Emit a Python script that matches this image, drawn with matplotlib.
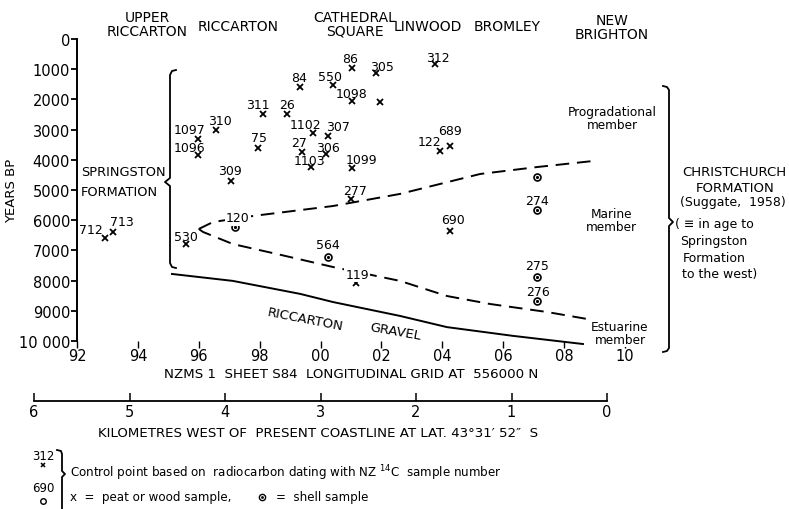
import matplotlib.pyplot as plt
from matplotlib.lines import Line2D

# === DONNEES (grid easting 92..110, age in years BP) ===
peat_ids = ["86", "305", "84", "550", "1098", "", "311", "26", "310", "1097",
            "1096", "75", "1102", "307", "27", "306", "1103", "1099", "309", "277",
            "312", "689", "122", "712", "713", "530", "690", "119"]
peat_x = [101.03, 101.82, 99.33, 100.41, 101.03, 101.95, 98.11, 98.90, 96.57, 95.98,
          95.98, 97.95, 99.75, 100.25, 99.39, 100.18, 99.69, 101.03, 97.06, 101.00,
          103.76, 104.25, 103.92, 92.92, 93.18, 95.58, 104.25, 101.17]
peat_age = [960, 1130, 1590, 1520, 2050, 2090, 2480, 2480, 3010, 3310,
            3840, 3610, 3110, 3210, 3740, 3810, 4240, 4270, 4700, 5300,
            830, 3540, 3710, 6590, 6390, 6790, 6360, 8080]

shell_ids = ["120", "564", "", "274", "275", "276"]
shell_x = [97.19, 100.25, 107.11, 107.11, 107.11, 107.11]
shell_age = [6225, 7220, 4570, 5660, 7880, 8675]

# member boundaries
upper_x = [96.0, 96.47, 97.78, 100.41, 102.61, 105.24, 107.11, 108.95]
upper_age = [6290, 6060, 5860, 5530, 5130, 4470, 4240, 4040]
lower_x = [96.0, 96.14, 97.12, 98.57, 100.41, 102.61, 104.15, 105.57, 107.44, 108.75]
lower_age = [6290, 6390, 6790, 7120, 7550, 8010, 8510, 8775, 9040, 9270]
gravel_x = [95.12, 97.12, 99.33, 100.41, 102.61, 104.15, 106.32, 108.62]
gravel_age = [7780, 8010, 8440, 8710, 9170, 9540, 9830, 10100]

year_ticks = list(range(0, 10001, 1000))
year_labels = [str(v) for v in year_ticks[:-1]] + ["10 000"]
grid_ticks = list(range(92, 111, 2))
grid_labels = ["92", "94", "96", "98", "00", "02", "04", "06", "08", "10"]
km_ticks = [6, 5, 4, 3, 2, 1, 0]

places = ["UPPER\nRICCARTON", "RICCARTON", "CATHEDRAL\nSQUARE", "LINWOOD", "BROMLEY", "NEW\nBRIGHTON"]

# label offsets (pixels) for sample numbers
peat_off = [(-2, 9), (6, 7), (-1, 10), (-3, 8), (0, 7), (0, 0), (-5, 9), (0, 9), (4, 9), (-9, 9),
            (-9, 7), (1, 11), (-7, 8), (10, 9), (-3, 9), (2, 7), (-2, 7), (10, 8), (-1, 10), (4, 9),
            (3, 7), (0, 15), (-10, 10), (-14, 9), (9, 10), (0, 8), (3, 12), (1, 9)]
shell_off = [(3, 9), (0, 13), (0, 0), (0, 9), (0, 11), (1, 9)]

W, H = 789, 510


def fx(px):
    return px / W


def fy(py):
    return 1 - py / H


def ftext(px, py, s, **kw):
    kw.setdefault("fontsize", 10)
    kw.setdefault("ha", "center")
    kw.setdefault("va", "center")
    fig.text(fx(px), fy(py), s, **kw)


def fline(pts, **kw):
    xs = [fx(p[0]) for p in pts]
    ys = [fy(p[1]) for p in pts]
    fig.add_artist(Line2D(xs, ys, color="black", lw=1.3, **kw))


plt.rcParams["font.family"] = ["DejaVu Sans"]
fig = plt.figure(figsize=(7.89, 5.10), dpi=100)
ax = fig.add_axes([fx(77), fy(342), (625 - 77) / W, (342 - 40) / H])
ax.set_xlim(92, 110)
ax.set_ylim(10000, 0)
for s in ["top", "right", "bottom"]:
    ax.spines[s].set_visible(False)
ax.spines["left"].set_linewidth(1.4)
ax.set_yticks(year_ticks)
ax.set_yticklabels(year_labels, fontsize=10.5)
ax.set_xticks(grid_ticks)
ax.set_xticklabels(grid_labels, fontsize=10.5)
ax.tick_params(axis="y", length=4, width=1.3, pad=1)
ax.tick_params(axis="x", length=5, width=1, pad=0)
ax.set_ylabel("YEARS BP", fontsize=9.5)
ax.yaxis.set_label_coords(-0.107, 0.5)
ax.set_xlabel("NZMS 1  SHEET S84  LONGITUDINAL GRID AT  556000 N", fontsize=9.6, labelpad=3)

# boundaries
ax.plot(upper_x, upper_age, color="black", lw=1.4, dashes=(7, 4), clip_on=False)
ax.plot(lower_x, lower_age, color="black", lw=1.4, dashes=(7, 4), clip_on=False)
ax.plot(gravel_x, gravel_age, color="black", lw=1.4, clip_on=False)

# samples
ax.plot(peat_x, peat_age, ls="none", marker="x", ms=4, mew=1.3, color="black", clip_on=False)
ax.plot(shell_x, shell_age, ls="none", marker="o", ms=5, mew=1.2, mfc="white", mec="black", clip_on=False)
ax.plot(shell_x, shell_age, ls="none", marker=".", ms=2.5, color="black", clip_on=False)

for lab, x, y, off in zip(peat_ids + shell_ids, peat_x + shell_x, peat_age + shell_age, peat_off + shell_off):
    if not lab:
        continue
    bb = None
    if lab in ("120", "119"):
        bb = dict(boxstyle="square,pad=0.1", fc="white", ec="none")
    ax.annotate(lab, (x, y), xytext=off, textcoords="offset pixels",
                ha="center", va="center", fontsize=9, bbox=bb)

# place names
place_pos = [(147, 25), (238, 27), (355, 25), (428, 27), (507, 27), (612, 28)]
for name, (px, py) in zip(places, place_pos):
    ftext(px, py, name, linespacing=0.95)

ftext(81, 172, "SPRINGSTON", ha="left", fontsize=9.3)
ftext(81, 192, "FORMATION", ha="left", fontsize=9.3)
ftext(305, 320, "RICCARTON", rotation=-11, fontsize=9.5)
ftext(395, 332, "GRAVEL", rotation=-10, fontsize=9.5)

ftext(612, 119, "Progradational\nmember", fontsize=8.7, linespacing=1.0)
ftext(611, 221, "Marine\nmember", fontsize=8.7, linespacing=1.0)
ftext(620, 334, "Estuarine\nmember", fontsize=8.7, linespacing=1.0,
      bbox=dict(boxstyle="square,pad=0.05", fc="white", ec="none"))

ftext(734, 173, "CHRISTCHURCH", fontsize=9.5)
ftext(735, 188, "FORMATION", fontsize=9.5)
ftext(733, 203, "(Suggate,  1958)", fontsize=9)
ftext(675, 225, "( \u2261 in age to", fontsize=9, ha="left")
ftext(680, 242, "Springston", fontsize=9, ha="left")
ftext(683, 258, "Formation", fontsize=9, ha="left")
ftext(682, 275, "to the west)", fontsize=9, ha="left")

# braces
fline([(176, 71), (172, 72), (170, 76), (170, 179), (165, 183), (170, 187),
       (170, 264), (172, 268), (176, 269)])
fline([(663, 87), (667, 88), (669, 91), (669, 219), (673, 223), (669, 227),
       (669, 349), (667, 352), (663, 353)])

# kilometre scale
axk = fig.add_axes([fx(34), fy(402), (607 - 34) / W, 0.0001])
axk.set_xlim(6, 0)
axk.set_ylim(0, 1)
for s in ["top", "right", "left"]:
    axk.spines[s].set_visible(False)
axk.spines["bottom"].set_linewidth(1.3)
axk.set_yticks([])
axk.set_xticks(km_ticks)
axk.set_xticklabels([str(k) for k in km_ticks], fontsize=10.5)
axk.tick_params(axis="x", direction="in", length=6, width=1.1, pad=2)
ftext(318, 434, "KILOMETRES WEST OF  PRESENT COASTLINE AT LAT. 43\u00b031\u2032 52\u2033  S", fontsize=9.6)

# legend
ftext(43, 457, "312", fontsize=8.5)
fig.add_artist(Line2D([fx(43)], [fy(466)], marker="x", ms=3.5, mew=1.1, color="black"))
ftext(43, 489, "690", fontsize=8.5)
fig.add_artist(Line2D([fx(43)], [fy(502)], marker="o", ms=4, mew=1, mfc="white", mec="black"))
fline([(57, 451), (61, 452), (62, 455), (62, 472), (65, 475), (62, 478), (62, 515)])
ftext(70, 473, "Control point based on  radiocarbon dating with NZ $^{14}$C  sample number",
      fontsize=8.6, ha="left")
ftext(70, 498, "x  =  peat or wood sample,", fontsize=8.6, ha="left")
fig.add_artist(Line2D([fx(262)], [fy(498)], marker="o", ms=4.5, mew=1, mfc="white", mec="black"))
fig.add_artist(Line2D([fx(262)], [fy(498)], marker=".", ms=2, color="black"))
ftext(276, 498, "=  shell sample", fontsize=8.6, ha="left")

fig.savefig("out.png", dpi=100)
